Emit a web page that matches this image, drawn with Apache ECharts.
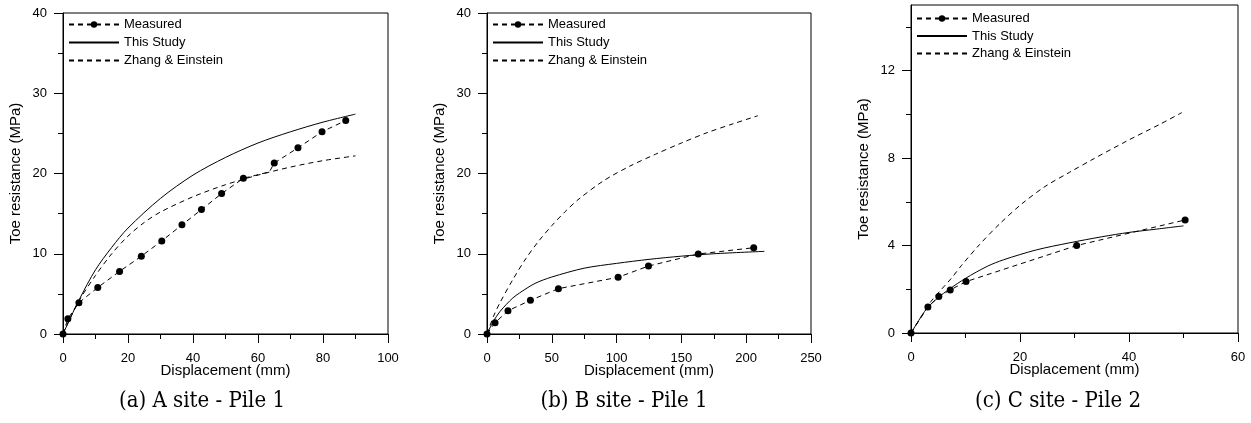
<!DOCTYPE html>
<html>
<head>
<meta charset="utf-8">
<script src="https://cdn.jsdelivr.net/npm/echarts@6/dist/echarts.min.js"></script>
<style>
    html, body { margin: 0; padding: 0; background: #fff; }
    #main { width: 1251px; height: 423px; }
</style>
</head>
<body>
<div id="main"></div>
<script>
    // (a) A site - Pile 1  [displacement mm, toe resistance MPa]
    var measuredA = [[0,0],[1.5,1.9],[4.9,3.9],[10.7,5.8],[17.4,7.8],[24.1,9.7],[30.4,11.6],[36.6,13.6],
        [42.6,15.5],[48.8,17.5],[55.5,19.4],[63.5,20.2],[65.0,21.3],[72.3,23.2],[79.7,25.2],[87.0,26.6]];
    var measuredA_noMarker = [11];
    var studyA = [[0,0],[2.5,2.2],[5,4.3],[10,8.0],[15,10.8],[20,13.2],[30,16.9],[40,19.8],[50,22.0],
        [60,23.8],[70,25.2],[80,26.4],[90,27.4]];
    var zhangA = [[0,0],[2.5,2.2],[5,4.2],[10,7.3],[15,10.0],[20,12.2],[25,13.9],[30,15.2],[40,17.1],
        [50,18.6],[60,19.8],[70,20.8],[80,21.6],[90,22.2]];

    // (b) B site - Pile 1
    var measuredB = [[0,0],[6.2,1.4],[16.2,2.9],[33.5,4.2],[55.1,5.65],[101.2,7.07],[124.6,8.47],[163.0,9.97],[205.8,10.75]];
    var studyB = [[0,0],[5,1.6],[10,2.8],[15,3.7],[20,4.5],[25,5.1],[37,6.3],[50,7.1],[75,8.2],[100,8.8],
        [125,9.3],[150,9.7],[175,10.0],[214,10.3]];
    var zhangB = [[0,0],[5,2.2],[10,3.9],[20,6.8],[30,9.4],[40,11.6],[50,13.5],[60,15.2],[70,16.7],[90,19.1],
        [110,20.9],[130,22.4],[150,23.8],[170,25.1],[190,26.2],[209,27.2]];

    // (c) C site - Pile 2
    var measuredC = [[0,0],[3.1,1.19],[5.1,1.67],[7.2,1.97],[10.1,2.35],[30.4,4.0],[50.3,5.17]];
    var studyC = [[0,0],[2,0.8],[3,1.15],[5,1.62],[7,2.0],[10,2.5],[14,3.05],[17,3.35],[23,3.8],[29,4.12],
        [35,4.4],[40,4.6],[45,4.75],[50,4.9]];
    var zhangC = [[0,0],[2,0.8],[3.7,1.45],[5.6,2.0],[7.4,2.5],[9.3,3.1],[12.6,4.05],[16.3,5.0],[20.3,5.9],
        [24.6,6.7],[29.1,7.35],[33.4,7.95],[39.6,8.78],[45.7,9.55],[49.7,10.08]];

    var yTicksC = [0, 4, 8, 12];
    var yMinorTicksC = [2, 6, 10, 14];

    var captions = ['(a) A site - Pile 1', '(b) B site - Pile 1', '(c) C site - Pile 2'];
    var xTitle = 'Displacement (mm)';
    var yTitle = 'Toe resistance (MPa)';

    var font = 'Liberation Sans, Arial, sans-serif';
    var captionFont = '22px "DejaVu Serif Condensed", "DejaVu Serif", serif';

    function xAxis(idx, max, interval) {
        return {
            type: 'value', gridIndex: idx, min: 0, max: max, interval: interval,
            name: xTitle, nameLocation: 'middle', nameGap: 29, nameMoveOverlap: false,
            nameTextStyle: { color: '#000', fontSize: 15, fontFamily: font },
            axisLine: { lineStyle: { color: '#000', width: 1 } },
            axisTick: { inside: false, length: 9, lineStyle: { color: '#000' } },
            minorTick: { show: true, splitNumber: 2, length: 5, lineStyle: { color: '#000' } },
            axisLabel: { color: '#000', fontSize: 13, fontFamily: font, margin: 18 },
            splitLine: { show: false }
        }
    }

    function yAxis(idx, max, interval) {
        return {
            type: 'value', gridIndex: idx, min: 0, max: max, interval: interval,
            name: yTitle, nameLocation: 'middle', nameGap: 40, nameMoveOverlap: false,
            nameTextStyle: { color: '#000', fontSize: 15, fontFamily: font },
            axisLine: { show: true, lineStyle: { color: '#000', width: 1 } },
            axisTick: { show: true, inside: false, length: 9, lineStyle: { color: '#000' } },
            minorTick: { show: true, splitNumber: 2, length: 5, lineStyle: { color: '#000' } },
            axisLabel: { color: '#000', fontSize: 13, fontFamily: font, margin: 16 },
            splitLine: { show: false }
        }
    }

    function withMarkers(data, hidden) {
        return data.map(function (p, i) {
            return hidden.indexOf(i) >= 0 ? { value: p, symbol: 'none', symbolSize: 0 } : p;
        });
    }

    function measured(data, idx, hidden) {
        return {
            name: 'Measured', type: 'line', xAxisIndex: idx, yAxisIndex: idx,
            data: withMarkers(data, hidden || []),
            symbol: 'circle', symbolSize: 7, z: 4,
            itemStyle: { color: '#000' },
            lineStyle: { color: '#000', width: 1, type: [5, 4] }
        }
    }

    function study(data, idx) {
        return {
            name: 'This Study', type: 'line', xAxisIndex: idx, yAxisIndex: idx, data: data,
            symbol: 'none', smooth: 0.3, z: 3,
            itemStyle: { color: '#000' },
            lineStyle: { color: '#000', width: 1, type: 'solid' }
        }
    }

    function zhang(data, idx) {
        return {
            name: 'Zhang & Einstein', type: 'line', xAxisIndex: idx, yAxisIndex: idx, data: data,
            symbol: 'none', smooth: 0.3, z: 3,
            itemStyle: { color: '#000' },
            lineStyle: { color: '#000', width: 1, type: [5, 4] }
        }
    }

    function legend(left, top, gap) {
        return {
            orient: 'vertical', left: left, top: top, padding: 0, itemGap: gap,
            itemWidth: 50, itemHeight: 8,
            data: [
                { name: 'Measured' },
                { name: 'This Study', itemStyle: { opacity: 0 } },
                { name: 'Zhang & Einstein', itemStyle: { opacity: 0 } }
            ],
            textStyle: { color: '#000', fontSize: 13, fontFamily: font },
            selectedMode: false
        }
    }

    var yC = yAxis(2, 15, 4);
    yC.axisTick.customValues = yTicksC;
    yC.axisLabel.customValues = yTicksC;
    yC.minorTick.show = false;
    var yCminor = {
        type: 'value', gridIndex: 2, min: 0, max: 15, position: 'left',
        axisLine: { show: false },
        axisTick: { show: true, length: 5, customValues: yMinorTicksC, lineStyle: { color: '#000' } },
        axisLabel: { show: false },
        splitLine: { show: false }
    };

    function caption(text, x) {
        return { type: 'text', x: x, y: 401, style: { text: text, font: captionFont, fill: '#000', textAlign: 'center', textVerticalAlign: 'middle' } }
    }

    var option = {
        animation: false,
        backgroundColor: '#fff',
        grid: [
            { left: 63, top: 13, width: 325, height: 321, show: true, borderColor: '#000', borderWidth: 1 },
            { left: 487, top: 13, width: 324, height: 321, show: true, borderColor: '#000', borderWidth: 1 },
            { left: 911, top: 5, width: 327, height: 328, show: true, borderColor: '#000', borderWidth: 1 }
        ],
        xAxis: [xAxis(0, 100, 20), xAxis(1, 250, 50), xAxis(2, 60, 20)],
        yAxis: [yAxis(0, 40, 10), yAxis(1, 40, 10), yC, yCminor],
        legend: [legend(68, 18, 5), legend(492, 18, 5), legend(916, 12, 4.5)],
        series: [
            measured(measuredA, 0, measuredA_noMarker), study(studyA, 0), zhang(zhangA, 0),
            measured(measuredB, 1), study(studyB, 1), zhang(zhangB, 1),
            measured(measuredC, 2), study(studyC, 2), zhang(zhangC, 2)
        ],
        graphic: [
            caption(captions[0], 202),
            caption(captions[1], 624),
            caption(captions[2], 1058)
        ]
    };

    var chart = echarts.init(document.getElementById('main'));
    chart.setOption(option);
</script>
</body>
</html>
